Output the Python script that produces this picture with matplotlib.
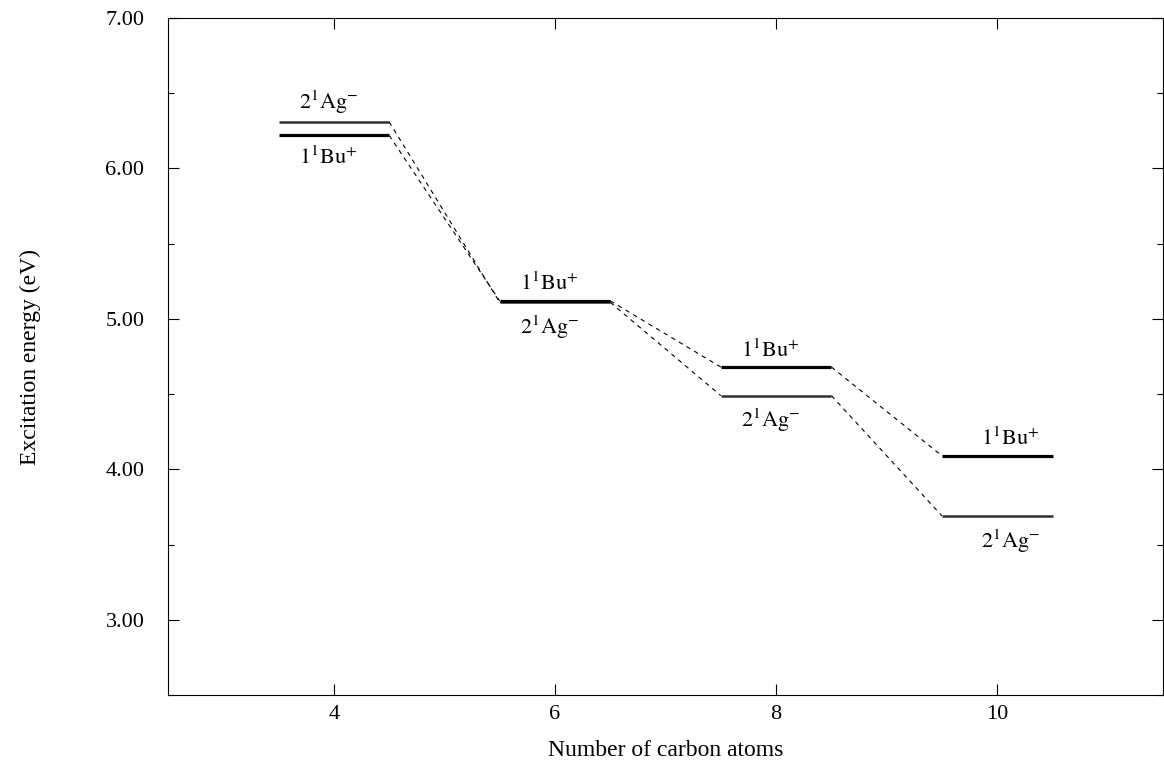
import numpy as np
import matplotlib
matplotlib.use('Agg')
from matplotlib import pyplot as plt

plt.rcParams['font.family'] = ['Liberation Serif', 'DejaVu Serif']
plt.rcParams['mathtext.fontset'] = 'stix'

# data
n_carbon = [4, 6, 8, 10]
bu_energy = [6.22, 5.12, 4.68, 4.09]   # 1^1Bu+
ag_energy = [6.31, 5.11, 4.49, 3.69]   # 2^1Ag-
yticks = [3.0, 4.0, 5.0, 6.0, 7.0]
xticks = [4, 6, 8, 10]

bu_label = r'$1^{1}\mathrm{Bu}^{+}$'
ag_label = r'$2^{1}\mathrm{Ag}^{-}$'

half = 0.5

fig = plt.figure(figsize=(11.64, 7.61), dpi=100)
ax = fig.add_axes([0.1443, 0.0867, 0.855, 0.8896])

# energy levels
for n, eb, ea in zip(n_carbon, bu_energy, ag_energy):
    ax.plot([n - half, n + half], [ea, ea], color='#303030', lw=1.8, solid_capstyle='butt')
    ax.plot([n - half, n + half], [eb, eb], color='black', lw=2.3, solid_capstyle='butt')

# dashed connectors between neighbouring chain lengths
for i in range(len(n_carbon) - 1):
    x0 = n_carbon[i] + half
    x1 = n_carbon[i + 1] - half
    ax.plot([x0, x1], [bu_energy[i], bu_energy[i + 1]], color='black', lw=0.8, ls=(0, (4, 4)))
    ax.plot([x0, x1], [ag_energy[i], ag_energy[i + 1]], color='black', lw=0.8, ls=(0, (4, 4)))

# state labels: the higher state gets its label above, the lower one below
xoff = {4: -0.05, 6: -0.05, 8: -0.05, 10: 0.12}
for n, eb, ea in zip(n_carbon, bu_energy, ag_energy):
    if ea >= eb:
        top_lab, top_y, bot_lab, bot_y = ag_label, ea, bu_label, eb
    else:
        top_lab, top_y, bot_lab, bot_y = bu_label, eb, ag_label, ea
    ax.annotate(top_lab, (n + xoff[n], top_y), xytext=(0, 4), textcoords='offset points',
                ha='center', va='bottom', fontsize=16)
    ax.annotate(bot_lab, (n + xoff[n], bot_y), xytext=(0, -8), textcoords='offset points',
                ha='center', va='top', fontsize=16)

ax.set_xlim(2.5, 11.5)
ax.set_ylim(2.5, 7.0)
ax.set_xticks(xticks)
ax.set_yticks(yticks)
ax.set_yticks(np.arange(2.5, 7.01, 0.5), minor=True)
ax.set_yticklabels(['%.2f' % v for v in yticks])

ax.tick_params(direction='in', top=True, right=True, labelsize=16)
ax.tick_params(axis='y', which='major', length=8, width=0.8, pad=17)
ax.tick_params(axis='y', which='minor', length=4, width=0.8, direction='in', right=True)
ax.tick_params(axis='x', which='major', length=8, width=0.8, pad=7)
for sp in ax.spines.values():
    sp.set_linewidth(0.8)

ax.set_xlabel('Number of carbon atoms', fontsize=17, labelpad=12)
ax.set_ylabel('Excitation energy (eV)', fontsize=17, labelpad=46)

fig.savefig('out.png', dpi=100)
